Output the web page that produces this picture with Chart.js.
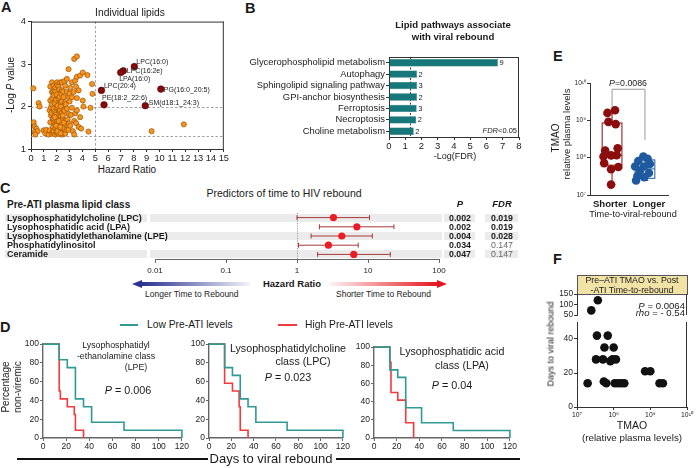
<!DOCTYPE html>
<html>
<head>
<meta charset="utf-8">
<script src="https://cdn.jsdelivr.net/npm/chart.js@4.4.1/dist/chart.umd.min.js"></script>
<style>
  body { margin: 0; background: #fff; }
  #fig { position: relative; width: 696px; height: 468px; overflow: hidden; font-family: 'Liberation Sans', Arial, sans-serif; color: #1a1a1a; }
  #fig canvas { position: absolute; }
  .t { position: absolute; white-space: nowrap; line-height: 1; }
</style>
</head>
<body>
<div id="fig"></div>
<script>
// ---------- data ----------

// A: individual lipids (hazard ratio vs -log P)
const lipidHr = [0.18, 0.21, 0.28, 0.41, 0.28, 0.52, 0.34, 0.59, 0.67, 0.98, 1.11, 1.19, 1.37, 1.45, 1.45, 1.5, 1.5, 1.5, 1.55, 1.55,
  1.6, 1.63, 1.63, 1.63, 1.63, 1.65, 1.7, 1.7, 1.71, 1.75, 1.76, 1.76, 1.76, 1.76, 1.76, 1.8, 1.82, 1.85, 1.89, 1.89,
  1.89, 1.89, 1.9, 1.9, 1.95, 1.96, 2.0, 2.0, 2.0, 2.02, 2.02, 2.05, 2.05, 2.07, 2.07, 2.12, 2.1, 2.14, 2.14, 2.15,
  2.2, 2.2, 2.22, 2.22, 2.22, 2.25, 2.27, 2.27, 2.3, 2.3, 2.33, 2.33, 2.35, 2.35, 2.4, 2.4, 2.4, 2.4, 2.4, 2.4,
  2.45, 2.48, 2.5, 2.5, 2.53, 2.53, 2.53, 2.58, 2.6, 2.6, 2.6, 2.66, 2.66, 2.66, 2.66, 2.7, 2.75, 2.79, 2.79, 2.79,
  2.85, 2.92, 2.92, 2.92, 2.92, 2.95, 3.0, 3.0, 3.05, 3.05, 3.1, 3.18, 3.18, 3.18, 3.26, 3.31, 3.36, 3.36, 3.36, 3.44,
  3.44, 3.51, 3.51, 3.57, 3.57, 3.57, 3.57, 3.7, 3.7, 3.82, 3.82, 3.9, 4.03, 4.03, 4.08, 4.39, 4.47, 4.63, 4.75, 4.78,
  9.38, 11.89, 2.05, 2.3, 2.45, 1.95, 2.15, 2.55, 2.28, 1.85];
const lipidLogP = [2.43, 1.63, 1.53, 1.48, 1.4, 1.42, 1.34, 2.08, 2.0, 1.44, 1.37, 1.45, 1.34, 1.44, 1.91, 2.14, 2.47, 1.63, 1.79, 1.98,
  1.85, 2.57, 2.34, 2.05, 1.36, 2.2, 1.7, 1.4, 1.52, 2.35, 2.49, 2.26, 1.95, 1.71, 1.42, 1.62, 1.88, 2.08, 2.36, 1.84,
  1.58, 1.34, 2.45, 1.48, 1.8, 2.16, 2.28, 1.65, 1.38, 2.57, 1.44, 1.98, 2.5, 2.02, 1.73, 1.62, 1.5, 2.47, 1.36, 2.18,
  2.4, 1.6, 2.23, 1.87, 1.55, 1.92, 2.57, 1.42, 2.1, 1.78, 2.0, 1.69, 2.3, 1.47, 2.57, 2.38, 2.12, 1.85, 1.6, 1.34,
  1.68, 1.79, 2.35, 1.4, 2.22, 1.92, 1.53, 1.44, 2.6, 1.9, 1.55, 2.49, 2.1, 1.66, 1.36, 2.05, 1.45, 2.65, 2.34, 1.95,
  1.7, 2.88, 2.23, 1.83, 1.45, 1.6, 2.12, 2.3, 2.44, 1.55, 1.8, 2.57, 2.22, 1.97, 1.42, 2.34, 3.12, 1.66, 1.34, 2.61,
  1.84, 2.47, 1.61, 3.18, 2.7, 2.2, 1.91, 2.38, 1.52, 2.73, 1.75, 1.48, 2.8, 2.14, 2.0, 2.74, 1.41, 1.97, 2.53, 2.3,
  1.42, 1.58, 1.42, 1.37, 1.5, 1.55, 1.66, 1.62, 1.52, 1.75];
const hitNames = ['LPC(16:0)', 'LPC(16:2e)', 'LPA(16:0)', 'LPC(20:4)', 'PE(18:2_22:6)', 'SM(d18:1_24:3)', 'PG(16:0_20:5)'];
const hitHr = [8.04, 7.18, 6.98, 5.48, 5.68, 8.89, 10.1];
const hitLogP = [2.94, 2.84, 2.8, 2.38, 2.04, 2.02, 2.41];

// B: pathway enrichment
const pathways = ['Glycerophospholipid metabolism', 'Autophagy', 'Sphingolipid signaling pathway', 'GPI-anchor biosynthesis',
  'Ferroptosis', 'Necroptosis', 'Choline metabolism'];
const negLogFdr = [6.7, 1.72, 1.72, 1.72, 1.7, 1.68, 1.52];
const lipidCounts = [9, 2, 3, 2, 3, 2, 2];

// C: Cox model, pre-ATI lipid classes
const lipidClasses = ['Lysophosphatidylcholine (LPC)', 'Lysophosphatidic acid (LPA)', 'Lysophosphatidylethanolamine (LPE)',
  'Phosphatidylinositol', 'Ceramide'];
const hazardRatio = [3.26, 6.97, 4.28, 2.77, 6.3];
const ciLow = [1.0, 2.07, 1.58, 1.05, 1.95];
const ciHigh = [10.5, 23.2, 11.5, 7.28, 20.6];
const pValues = ['0.002', '0.002', '0.004', '0.034', '0.047'];
const fdrValues = ['0.019', '0.019', '0.028', '0.147', '0.147'];

// D: Kaplan-Meier, % non-viremic by day
const lpeLowDays = [0, 14, 21, 28, 35, 42, 70, 120];
const lpeLowPct = [100, 83.3, 75, 41.7, 33.3, 16.7, 8.3, 0];
const lpeHighDays = [0, 14, 15, 21, 27, 28, 35];
const lpeHighPct = [100, 50, 41.7, 33.3, 25, 8.3, 0];
const lpcLowDays = [0, 14, 21, 28, 35, 42, 70, 120];
const lpcLowPct = [100, 75, 66.7, 41.7, 33.3, 16.7, 8.3, 0];
const lpcHighDays = [0, 14, 21, 27, 28, 35];
const lpcHighPct = [100, 58.3, 50, 33.3, 8.3, 0];
const lpaLowDays = [0, 14, 21, 28, 42, 70, 120];
const lpaLowPct = [100, 75, 66.7, 33.3, 16.7, 8.3, 0];
const lpaHighDays = [0, 14, 15, 21, 28, 35];
const lpaHighPct = [100, 83.3, 50, 41.7, 16.7, 0];

// E: TMAO by time-to-rebound group
const groupNames = ['Shorter', 'Longer'];
const shorterPos = [1.09, 0.86, 0.89, 1.11, 1.17, 0.79, 1.14, 0.74, 0.97, 0.76, 1.19, 0.97, 0.97];
const shorterTmao = [1.86e9, 1.58e9, 9.1e8, 7.9e8, 1.78e8, 1.55e8, 1.17e8, 1.07e8, 1.15e8, 7.1e7, 5.6e7, 4.9e7, 1.9e7];
const longerPos = [2.08, 1.95, 1.8, 2.15, 1.7, 1.97, 1.85, 2.12, 1.77, 1.98, 1.73];
const longerTmao = [9.3e7, 1.07e8, 8.1e7, 6.8e7, 5.8e7, 5.8e7, 4.5e7, 3.9e7, 3.2e7, 3.0e7, 2.45e7];
const boxMin = [1.9e7, 2.45e7];
const boxQ1 = [6.3e7, 2.8e7];
const boxMedian = [1.15e8, 5.0e7];
const boxQ3 = [8.5e8, 8.7e7];
const boxMax = [1.86e9, 1.12e8];

// F: TMAO vs days to rebound
const tmaoLevels = [1.95e7, 3.5e7, 3.3e7, 5.1e7, 5.4e7, 5.6e7, 6.3e7, 6.9e7, 8.1e7, 1.0e8, 9.3e7, 1.15e8, 1.07e8,
  1.32e8, 1.62e8, 1.95e8, 7.2e8, 1.0e9, 1.78e9, 2.2e9, 2.45e7, 3.7e7];
const reboundDays = [14, 42, 28, 28, 15, 35, 14, 42, 27, 35, 28, 28, 14, 14, 14, 14, 21, 21, 14, 14, 72, 120];

// ---------- helpers ----------
const fig = document.getElementById('fig');
const FONT = "'Liberation Sans', Arial, sans-serif";

Chart.defaults.font.family = FONT;
Chart.defaults.color = '#222';
Chart.defaults.animation = false;
Chart.defaults.responsive = false;
Chart.defaults.devicePixelRatio = 1;
Chart.defaults.plugins.legend.display = false;
Chart.defaults.plugins.tooltip.enabled = false;

function addText(html, x, y, opts = {}) {
  const el = document.createElement('div');
  el.className = 't';
  el.innerHTML = html;
  const shift = { left: '0', center: '-50%', right: '-100%' }[opts.align || 'left'];
  el.style.left = `${x}px`;
  el.style.top = `${y}px`;
  el.style.fontSize = `${opts.size || 9}px`;
  if (opts.bold) el.style.fontWeight = 'bold';
  if (opts.color) el.style.color = opts.color;
  el.style.transform = `translate(${shift}, -50%)${opts.rotate ? ` rotate(${opts.rotate}deg)` : ''}`;
  fig.appendChild(el);
  return el;
}

function addBox(x, y, w, h, css) {
  const el = document.createElement('div');
  el.style.cssText = `position:absolute;left:${x}px;top:${y}px;width:${w}px;height:${h}px;${css}`;
  fig.appendChild(el);
  return el;
}

function addCanvas(x, y, w, h) {
  const c = document.createElement('canvas');
  c.width = w;
  c.height = h;
  c.style.left = `${x}px`;
  c.style.top = `${y}px`;
  c.style.width = `${w}px`;
  c.style.height = `${h}px`;
  fig.appendChild(c);
  return c;
}

function axis(opts) {
  return {
    ...opts,
    grid: { drawOnChartArea: false, tickLength: 3, color: '#333', ...(opts.grid || {}) },
    border: { color: '#333', width: 1, ...(opts.border || {}) },
    ticks: { color: '#222', padding: 2, maxRotation: 0, autoSkip: false, font: { size: 9 }, ...(opts.ticks || {}) },
  };
}

const supDigits = '⁰¹²³⁴⁵⁶⁷⁸⁹';
const powerLabel = (v) => `10${String(Math.round(Math.log10(v))).split('').map((d) => supDigits[+d]).join('')}`;
const decades = (lo, hi) => (scale) => {
  const ticks = [];
  for (let e = lo; e <= hi; e += 1) ticks.push({ value: 10 ** e });
  scale.ticks = ticks;
};

// top / right border of a plot box
Chart.register({
  id: 'frame',
  afterDatasetsDraw(chart, args, opts) {
    if (!opts.sides) return;
    const { ctx, chartArea: a } = chart;
    ctx.save();
    ctx.strokeStyle = '#333';
    ctx.lineWidth = 1;
    ctx.beginPath();
    if (opts.sides.includes('top')) { ctx.moveTo(a.left, a.top + 0.5); ctx.lineTo(a.right, a.top + 0.5); }
    if (opts.sides.includes('right')) { ctx.moveTo(a.right - 0.5, a.top); ctx.lineTo(a.right - 0.5, a.bottom); }
    ctx.stroke();
    ctx.restore();
  },
});

// dashed threshold lines
Chart.register({
  id: 'guides',
  beforeDatasetsDraw(chart, args, opts) {
    const { ctx, chartArea: a, scales } = chart;
    ctx.save();
    ctx.strokeStyle = opts.color || '#888';
    ctx.lineWidth = opts.width || 0.8;
    ctx.setLineDash(opts.dash || [3, 2]);
    (opts.x || []).forEach((v) => {
      const px = Math.round(scales.x.getPixelForValue(v)) + 0.5;
      ctx.beginPath(); ctx.moveTo(px, a.top); ctx.lineTo(px, a.bottom); ctx.stroke();
    });
    (opts.y || []).forEach((v) => {
      const py = Math.round(scales.y.getPixelForValue(v)) + 0.5;
      ctx.beginPath(); ctx.moveTo(a.left, py); ctx.lineTo(a.right, py); ctx.stroke();
    });
    ctx.restore();
  },
});

// ---------- panel letters ----------
[['A', 1, 7], ['B', 245, 8], ['C', 0, 188], ['D', 0, 327], ['E', 553, 56], ['F', 553, 259]].forEach(([l, x, y]) => {
  addText(l, x, y, { size: 14.5, bold: true });
});

// ---------- A ----------
const hitLabelOffset = [[2, -4.5], [3.5, 0.5], [-1.5, 7], [2.5, -4], [-2, -7], [3.5, -3], [3, 0.5]];

new Chart(addCanvas(0, 14, 230, 149), {
  type: 'scatter',
  data: {
    datasets: [
      {
        data: hitHr.map((v, i) => ({ x: v, y: hitLogP[i] })),
        backgroundColor: '#870a0a', borderColor: '#4a0000', borderWidth: 0.6, pointRadius: 3.3, clip: false,
      },
      {
        data: lipidHr.map((v, i) => ({ x: v, y: lipidLogP[i] })),
        backgroundColor: '#f7931e', borderColor: '#8a4a00', borderWidth: 0.6, pointRadius: 2.6, clip: false,
      },
    ],
  },
  options: {
    layout: { padding: { top: 7, right: 6 } },
    scales: {
      x: axis({ type: 'linear', min: 0, max: 15, ticks: { stepSize: 1, padding: 1, font: { size: 9.3 } }, afterFit: (s) => { s.height = 14; } }),
      y: axis({ min: 1, max: 4, ticks: { stepSize: 1, font: { size: 9.3 } }, afterFit: (s) => { s.width = 31; } }),
    },
    plugins: { frame: { sides: ['top', 'right'] }, guides: { x: [5], y: [2, 1.3], color: '#8a8a8a', dash: [2.5, 2] } },
  },
  plugins: [{
    id: 'hitLabels',
    afterDatasetsDraw(chart) {
      const { ctx, scales: { x, y } } = chart;
      ctx.save();
      ctx.font = `7px ${FONT}`;
      ctx.fillStyle = '#222';
      ctx.textBaseline = 'middle';
      hitNames.forEach((name, i) => {
        const [dx, dy] = hitLabelOffset[i];
        ctx.fillText(name, x.getPixelForValue(hitHr[i]) + dx, y.getPixelForValue(hitLogP[i]) + dy);
      });
      ctx.restore();
    },
  }],
});
addText('Individual lipids', 130, 13, { size: 10.3, align: 'center' });
addText('Hazard Ratio', 127, 170, { size: 10, align: 'center' });
addText('-Log <i>P</i> value', 11, 85, { size: 10, align: 'center', rotate: -90 });

// ---------- B ----------
new Chart(addCanvas(240, 50, 290, 101), {
  type: 'bar',
  data: {
    labels: pathways,
    datasets: [{
      data: negLogFdr, backgroundColor: '#16787a', borderColor: '#0e5e60', borderWidth: 0.5,
      barPercentage: 0.95, categoryPercentage: 0.68,
    }],
  },
  options: {
    indexAxis: 'y',
    layout: { padding: { top: 7, right: 11 } },
    scales: {
      x: axis({ min: 0, max: 8, ticks: { stepSize: 1, padding: 1, font: { size: 9.5 } }, afterFit: (s) => { s.height = 14; } }),
      y: axis({ grid: { offset: false }, ticks: { font: { size: 9.4 }, padding: 1 }, afterFit: (s) => { s.width = 149; } }),
    },
    plugins: { frame: { sides: ['top', 'right'] }, guides: { x: [1.3], color: '#444', dash: [2, 1.5], width: 1 } },
  },
  plugins: [{
    id: 'countLabels',
    afterDatasetsDraw(chart) {
      const { ctx, scales: { x, y } } = chart;
      ctx.save();
      ctx.font = `7.5px ${FONT}`;
      ctx.fillStyle = '#222';
      ctx.textBaseline = 'middle';
      lipidCounts.forEach((n, i) => ctx.fillText(String(n), x.getPixelForValue(negLogFdr[i]) + 1.5, y.getPixelForValue(i) + 0.5));
      ctx.restore();
    },
  }],
});
addText('Lipid pathways associate', 453, 25, { size: 9.6, bold: true, align: 'center' });
addText('with viral rebound', 453, 37, { size: 9.6, bold: true, align: 'center' });
addText('-Log(FDR)', 455, 156, { size: 9, align: 'center' });
addText('<i>FDR</i>&lt;0.05', 517, 131, { size: 7.5, align: 'right' });

// ---------- C ----------
const rowY = lipidClasses.map((_, i) => 217.6 + i * 9.1);
rowY.forEach((yy, i) => {
  if (i % 2) return;
  addBox(5, yy - 4, 142, 8, 'background:#ebebeb');
  addBox(150, yy - 4, 292, 8, 'background:#ebebeb');
  addBox(444, yy - 4, 31, 8, 'background:#ebebeb');
  addBox(485, yy - 4, 33, 8, 'background:#ebebeb');
});

new Chart(addCanvas(140, 206, 310, 69), {
  type: 'scatter',
  data: {
    datasets: [{
      data: hazardRatio.map((v, i) => ({ x: v, y: i })),
      backgroundColor: '#ea1c24', borderWidth: 0, pointRadius: 3.6, clip: false,
    }],
  },
  options: {
    layout: { padding: { top: 7, left: 15, right: 11 } },
    scales: {
      x: axis({
        type: 'logarithmic', min: 0.01, max: 100,
        afterBuildTicks: decades(-2, 2),
        ticks: { callback: (v) => String(v), font: { size: 8 }, padding: 3 },
        border: { color: '#666' },
        grid: { color: '#666', tickLength: 4 },
        afterFit: (s) => { s.height = 16; },
      }),
      y: { display: false, min: -0.5, max: 4.5, reverse: true },
    },
  },
  plugins: [{
    id: 'forest',
    beforeDatasetsDraw(chart) {
      const { ctx, chartArea: a, scales: { x, y } } = chart;
      ctx.save();
      ctx.strokeStyle = '#777';
      ctx.lineWidth = 0.8;
      ctx.setLineDash([1, 1.5]);
      const one = Math.round(x.getPixelForValue(1)) + 0.5;
      ctx.beginPath(); ctx.moveTo(one, a.top); ctx.lineTo(one, a.bottom); ctx.stroke();
      ctx.setLineDash([]);
      ctx.strokeStyle = '#a8383a';
      ctx.lineWidth = 1;
      hazardRatio.forEach((hr, i) => {
        const py = y.getPixelForValue(i);
        const x0 = x.getPixelForValue(ciLow[i]);
        const x1 = x.getPixelForValue(ciHigh[i]);
        ctx.beginPath();
        ctx.moveTo(x0, py); ctx.lineTo(x1, py);
        ctx.moveTo(x0, py - 2.5); ctx.lineTo(x0, py + 2.5);
        ctx.moveTo(x1, py - 2.5); ctx.lineTo(x1, py + 2.5);
        ctx.stroke();
      });
      ctx.restore();
    },
  }],
});
addText('Predictors of time to HIV rebound', 284, 193, { size: 10.5, align: 'center' });
addText('Pre-ATI plasma lipid class', 7, 205, { size: 10, bold: true });
addText('<i>P</i>', 460, 204, { size: 9.5, bold: true, align: 'center' });
addText('<i>FDR</i>', 502, 204, { size: 9.5, bold: true, align: 'center' });
lipidClasses.forEach((name, i) => {
  addText(name, 7, rowY[i], { size: 9, bold: true });
  addText(pValues[i], 460, rowY[i], { size: 8.8, bold: true, align: 'center' });
  const sig = parseFloat(fdrValues[i]) < 0.05;
  addText(fdrValues[i], 502, rowY[i], { size: 8.8, bold: sig, align: 'center', color: sig ? '#1a1a1a' : '#666' });
});

// direction arrows under the forest plot
addBox(142, 282.3, 108, 3.4, 'background:linear-gradient(to right,#2b3390,rgba(205,208,238,0.25))');
addBox(132, 279.5, 0, 0, 'border-top:4.5px solid transparent;border-bottom:4.5px solid transparent;border-right:10px solid #2b3390;width:0;height:0');
addBox(330, 282.3, 108, 3.4, 'background:linear-gradient(to right,rgba(245,205,205,0.25),#e5161d)');
addBox(437, 279.5, 0, 0, 'border-top:4.5px solid transparent;border-bottom:4.5px solid transparent;border-left:10px solid #e5161d;width:0;height:0');
addText('Hazard Ratio', 292, 284, { size: 9.5, bold: true, align: 'center' });
addText('Longer Time to Rebound', 145, 293.5, { size: 8.5 });
addText('Shorter Time to Rebound', 336, 293.5, { size: 8.5 });

// ---------- D ----------
const lowColor = '#2e9a93';
const highColor = '#f23a3e';

function kmChart(box, padTop, lowDays, lowPct, highDays, highPct) {
  const [x, y, w, h] = box;
  return new Chart(addCanvas(x, y, w, h), {
    type: 'line',
    data: {
      datasets: [
        { data: lowDays.map((d, i) => ({ x: d, y: lowPct[i] })), borderColor: lowColor, borderWidth: 1.6, pointRadius: 0, stepped: true, clip: 4 },
        { data: highDays.map((d, i) => ({ x: d, y: highPct[i] })), borderColor: highColor, borderWidth: 1.6, pointRadius: 0, stepped: true, clip: 4 },
      ],
    },
    options: {
      layout: { padding: { top: padTop, right: 7 } },
      scales: {
        x: axis({
          type: 'linear', min: 0, max: 120,
          ticks: { stepSize: 20, font: { size: 8.5 }, padding: 1 },
          border: { color: '#666', width: 1.4 }, grid: { color: '#666' },
          afterFit: (s) => { s.height = 14; },
        }),
        y: axis({
          min: 0, max: 100,
          ticks: { stepSize: 20, font: { size: 8.5 }, padding: 1 },
          border: { color: '#666', width: 1.4 }, grid: { color: '#666' },
          afterFit: (s) => { s.width = 23; },
        }),
      },
    },
  });
}

kmChart([20, 338, 170, 114], 6, lpeLowDays, lpeLowPct, lpeHighDays, lpeHighPct);
kmChart([186, 338, 165, 114], 6, lpcLowDays, lpcLowPct, lpcHighDays, lpcHighPct);
kmChart([351, 341, 167, 111], 6, lpaLowDays, lpaLowPct, lpaHighDays, lpaHighPct);

addBox(120, 324, 18, 2, `background:${lowColor}`);
addText('Low Pre-ATI levels', 147, 325, { size: 10.3 });
addBox(278, 324, 19, 2, `background:${highColor}`);
addText('High Pre-ATI levels', 305, 325, { size: 10.3 });

addText('Lysophosphatidyl', 116, 344.5, { size: 8.8, align: 'center' });
addText('-ethanolamine class', 116, 355.5, { size: 8.8, align: 'center' });
addText('(LPE)', 136, 366.5, { size: 8.8, align: 'center' });
addText('<i>P</i> = 0.006', 128, 390, { size: 10.8, align: 'center' });
addText('Lysophosphatidylcholine', 288, 348, { size: 10.7, align: 'center' });
addText('class (LPC)', 303, 361, { size: 10.7, align: 'center' });
addText('<i>P</i> = 0.023', 288, 377, { size: 10.8, align: 'center' });
addText('Lysophosphatidic acid', 452, 351, { size: 10.7, align: 'center' });
addText('class (LPA)', 462, 365, { size: 10.7, align: 'center' });
addText('<i>P</i> = 0.04', 452, 385, { size: 10.8, align: 'center' });

addText('Percentage', 6, 387, { size: 10, align: 'center', rotate: -90 });
addText('non-viremic', 17.5, 387, { size: 10, align: 'center', rotate: -90 });
addBox(17, 457.5, 191, 2, 'background:#111');
addBox(336, 457.5, 184, 2, 'background:#111');
addText('Days to viral rebound', 271, 458, { size: 13, align: 'center' });

// ---------- E ----------
new Chart(addCanvas(572, 76, 103, 133), {
  type: 'scatter',
  data: {
    datasets: [
      { data: shorterPos.map((v, i) => ({ x: v, y: shorterTmao[i] })), backgroundColor: '#8b0d0d', borderWidth: 0, pointRadius: 4.3, clip: false },
      { data: longerPos.map((v, i) => ({ x: v, y: longerTmao[i] })), backgroundColor: '#1f5a9f', borderWidth: 0, pointRadius: 4.3, clip: false },
    ],
  },
  options: {
    layout: { padding: { top: 7, right: 7 } },
    scales: {
      x: axis({
        type: 'linear', min: 0.33, max: 2.7,
        ticks: { display: false },
        grid: { drawTicks: false },
        afterFit: (s) => { s.height = 14; },
      }),
      y: axis({
        type: 'logarithmic', min: 1e7, max: 1e10,
        afterBuildTicks: decades(7, 10),
        ticks: { callback: powerLabel, font: { size: 6.5 }, padding: 1 },
        afterFit: (s) => { s.width = 18; },
      }),
    },
  },
  plugins: [{
    id: 'boxes',
    beforeDatasetsDraw(chart) {
      const { ctx, scales: { x, y } } = chart;
      const colors = ['#8b0d0d', '#1f5a9f'];
      ctx.save();
      ctx.lineWidth = 1;
      groupNames.forEach((g, i) => {
        const cx = x.getPixelForValue(i + 1);
        const half = x.getPixelForValue(i + 1.3) - cx;
        const cap = half / 3;
        const yq1 = y.getPixelForValue(boxQ1[i]);
        const yq3 = y.getPixelForValue(boxQ3[i]);
        const ymed = y.getPixelForValue(boxMedian[i]);
        const ylo = y.getPixelForValue(boxMin[i]);
        const yhi = y.getPixelForValue(boxMax[i]);
        ctx.strokeStyle = colors[i];
        ctx.strokeRect(cx - half, yq3, half * 2, yq1 - yq3);
        ctx.beginPath();
        ctx.moveTo(cx - half, ymed); ctx.lineTo(cx + half, ymed);
        ctx.moveTo(cx, yq3); ctx.lineTo(cx, yhi);
        ctx.moveTo(cx - cap, yhi); ctx.lineTo(cx + cap, yhi);
        ctx.moveTo(cx, yq1); ctx.lineTo(cx, ylo);
        ctx.moveTo(cx - cap, ylo); ctx.lineTo(cx + cap, ylo);
        ctx.stroke();
      });
      // significance bracket
      const xl = x.getPixelForValue(1);
      const xr = x.getPixelForValue(2);
      const top = y.getPixelForValue(6.8e9);
      ctx.strokeStyle = '#999';
      ctx.beginPath();
      ctx.moveTo(xl, y.getPixelForValue(2.2e9)); ctx.lineTo(xl, top); ctx.lineTo(xr, top); ctx.lineTo(xr, y.getPixelForValue(3.0e8));
      ctx.stroke();
      ctx.restore();
    },
  }],
});
addText(groupNames[0], 610, 204, { size: 9.6, bold: true, align: 'center' });
addText(groupNames[1], 649, 204, { size: 9.6, bold: true, align: 'center' });
addText('<i>P</i>=0.0086', 628, 83, { size: 8.8, align: 'center' });
addText('TMAO', 556, 138, { size: 10, align: 'center', rotate: -90 });
addText('relative plasma levels', 567, 134, { size: 9.5, align: 'center', rotate: -90 });
addText('Time-to-viral-rebound', 633, 215, { size: 9.2, align: 'center' });

// ---------- F ----------
const lowerIdx = reboundDays.map((d, i) => i).filter((i) => reboundDays[i] <= 50);
const upperIdx = reboundDays.map((d, i) => i).filter((i) => reboundDays[i] > 50);

addBox(577, 275, 109, 18, 'background:#f1e2a6;border:1px solid #555');
addText('Pre–ATI TMAO vs. Post', 632, 279.5, { size: 8.8, align: 'center' });
addText('-ATI Time-to-rebound', 632, 290, { size: 8.8, align: 'center' });

new Chart(addCanvas(555, 288, 141, 33), {
  type: 'scatter',
  data: { datasets: [{ data: upperIdx.map((i) => ({ x: tmaoLevels[i], y: reboundDays[i] })), backgroundColor: '#111', borderWidth: 0, pointRadius: 4.3, clip: false }] },
  options: {
    layout: { padding: { top: 6, right: 9, bottom: 4 } },
    scales: {
      x: { type: 'logarithmic', min: 1e7, max: 1e10, display: false },
      y: axis({
        min: 50, max: 150,
        afterBuildTicks: (s) => { s.ticks = [{ value: 50 }, { value: 100 }, { value: 150 }]; },
        ticks: { font: { size: 8.3 }, padding: 1 },
        afterFit: (s) => { s.width = 22; },
      }),
    },
    plugins: { frame: { sides: ['right'] } },
  },
});

new Chart(addCanvas(555, 315, 141, 104), {
  type: 'scatter',
  data: { datasets: [{ data: lowerIdx.map((i) => ({ x: tmaoLevels[i], y: reboundDays[i] })), backgroundColor: '#111', borderWidth: 0, pointRadius: 4.3, clip: false }] },
  options: {
    layout: { padding: { top: 7, right: 9 } },
    scales: {
      x: axis({
        type: 'logarithmic', min: 1e7, max: 1e10,
        afterBuildTicks: decades(7, 10),
        ticks: { callback: powerLabel, font: { size: 6.8 }, padding: 1 },
        afterFit: (s) => { s.height = 12; },
      }),
      y: axis({
        min: 0, max: 50,
        afterBuildTicks: (s) => { s.ticks = [{ value: 0 }, { value: 20 }, { value: 40 }]; },
        ticks: { font: { size: 8.5 }, padding: 1 },
        afterFit: (s) => { s.width = 22; },
      }),
    },
    plugins: { frame: { sides: ['right'] } },
  },
});
addText('<i>P</i> = 0.0064', 685, 305.5, { size: 9.6, align: 'right' });
addText('<i>rho</i> = - 0.54', 685, 313, { size: 9.6, align: 'right' });
addText('Days to viral rebound', 551, 344, { size: 9, align: 'center', rotate: -90, color: '#222' });
addText('TMAO', 632, 425, { size: 10.5, align: 'center' });
addText('(relative plasma levels)', 632, 438, { size: 9.8, align: 'center' });
</script>
</body>
</html>
